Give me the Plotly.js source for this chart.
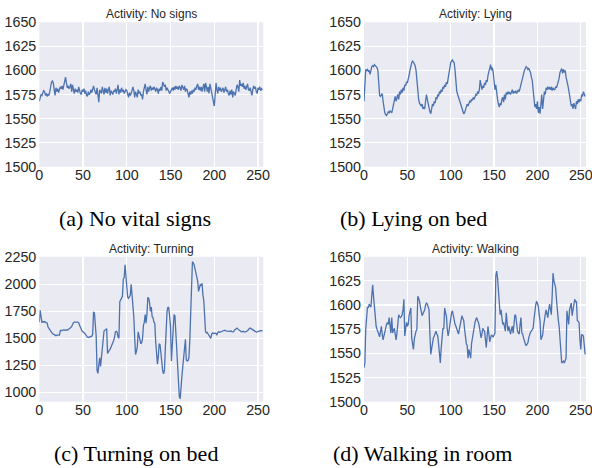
<!DOCTYPE html>
<html>
<head>
<meta charset="utf-8">
<script src="https://cdn.plot.ly/plotly-3.0.1.min.js"></script>
<style>html,body{margin:0;padding:0;background:#fff;}#chart{width:592px;height:468px;}</style>
</head>
<body>
<div id="chart"></div>
<script>
// Sample values (signal amplitude per sample index)
var noSigns = [
1568,1572,1575,1574,1577,1579,1578,1574,1576,1573,
1575,1574,1578,1584,1588,1589,1587,1580,1574,1582,
1578,1581,1577,1580,1583,1581,1584,1580,1586,1588,
1593,1587,1582,1584,1581,1583,1586,1578,1585,1580,
1576,1581,1578,1580,1577,1583,1579,1576,1575,1580,
1578,1581,1576,1579,1574,1573,1578,1575,1576,1580,
1577,1583,1584,1580,1577,1575,1582,1570,1567,1580,
1578,1576,1583,1578,1575,1582,1577,1581,1576,1580,
1583,1574,1579,1577,1575,1579,1578,1581,1576,1580,
1585,1575,1580,1577,1582,1578,1580,1576,1579,1580,
1579,1575,1572,1577,1574,1576,1580,1583,1579,1572,
1578,1575,1572,1580,1576,1578,1574,1575,1570,1578,
1582,1586,1580,1575,1583,1578,1582,1584,1579,1582,
1580,1583,1581,1578,1582,1580,1576,1581,1579,1583,
1579,1588,1586,1583,1585,1579,1582,1580,1578,1576,
1578,1580,1582,1579,1583,1580,1584,1581,1583,1580,
1584,1582,1579,1585,1582,1580,1584,1578,1581,1580,
1576,1572,1578,1575,1579,1576,1580,1578,1582,1580,
1584,1586,1580,1583,1579,1583,1578,1582,1586,1578,
1587,1583,1578,1583,1576,1586,1579,1577,1572,1568,
1563,1575,1587,1580,1576,1583,1579,1582,1578,1580,
1582,1577,1581,1583,1578,1580,1576,1574,1579,1575,
1580,1572,1578,1576,1574,1580,1585,1583,1578,1590,
1584,1586,1583,1587,1581,1584,1580,1583,1586,1580,
1579,1582,1577,1574,1580,1584,1581,1583,1578,1576,
1582,1580,1583,1579,1581,1580];

var lying = [
1568,1590,1601,1600,1601,1599,1600,1596,1602,1604,
1605,1604,1606,1605,1605,1603,1600,1585,1574,1573,
1575,1576,1568,1560,1556,1554,1553,1555,1557,1556,
1558,1557,1556,1560,1565,1570,1573,1568,1572,1575,
1570,1578,1575,1580,1577,1582,1579,1585,1584,1588,
1587,1590,1595,1600,1606,1608,1610,1609,1607,1605,
1600,1590,1578,1570,1566,1564,1563,1565,1560,1562,
1560,1568,1575,1570,1565,1560,1557,1555,1560,1565,
1563,1568,1566,1572,1570,1575,1573,1578,1576,1580,
1578,1583,1581,1585,1583,1588,1586,1592,1598,1605,
1608,1610,1611,1609,1608,1600,1588,1578,1575,1572,
1570,1568,1565,1560,1558,1555,1556,1560,1563,1565,
1563,1566,1568,1567,1570,1569,1572,1570,1573,1575,
1574,1578,1576,1580,1590,1582,1580,1584,1582,1587,
1585,1590,1588,1595,1600,1603,1606,1600,1603,1598,
1585,1580,1585,1575,1570,1565,1562,1566,1564,1570,
1572,1567,1575,1570,1577,1575,1578,1576,1577,1575,
1578,1580,1576,1578,1577,1579,1576,1578,1580,1578,
1582,1585,1588,1592,1596,1600,1602,1604,1603,1601,
1602,1600,1598,1593,1590,1580,1565,1562,1565,1560,
1568,1556,1562,1555,1565,1575,1560,1570,1578,1575,
1582,1580,1583,1581,1582,1580,1583,1579,1582,1580,
1580,1583,1582,1585,1588,1592,1598,1600,1602,1597,
1601,1598,1600,1593,1590,1585,1580,1575,1568,1563,
1565,1560,1566,1562,1560,1568,1565,1570,1567,1570,
1568,1575,1573,1578,1575,1573];

var turning = [
1650,1760,1700,1650,1655,1650,1655,1650,1652,1640,
1605,1590,1575,1565,1555,1545,1540,1535,1530,1525,
1530,1528,1525,1530,1570,1575,1570,1578,1580,1575,
1580,1578,1575,1580,1585,1590,1600,1610,1630,1645,
1650,1652,1655,1650,1650,1645,1620,1595,1575,1565,
1560,1555,1545,1535,1520,1510,1508,1510,1512,1515,
1520,1540,1740,1735,1620,1520,1200,1175,1250,1320,
1240,1330,1400,1540,1570,1575,1580,1590,1360,1380,
1390,1400,1420,1440,1450,1480,1510,1560,1565,1555,
1510,1500,1840,1860,1870,1890,2050,2060,2180,2050,
1900,1880,1870,1890,1900,2000,1900,1840,1700,1510,
1350,1380,1420,1560,1530,1500,1450,1460,1500,1620,
1650,1720,1640,1720,1880,1870,1830,1750,1790,1700,
1690,1650,1640,1470,1350,1260,1330,1450,1440,1350,
1280,1200,1170,1200,1400,1640,1750,1790,1780,1700,
1600,1290,1450,1550,1720,1710,1560,1390,1200,1050,
960,940,1080,1150,1240,1350,1400,1490,1300,1290,
1295,1320,1480,1700,2000,2210,2200,2180,2140,2100,
2090,2030,1935,1990,2000,1985,2010,1900,1850,1700,
1560,1550,1555,1540,1530,1520,1500,1540,1550,1545,
1550,1548,1545,1530,1555,1560,1555,1558,1565,1562,
1568,1570,1575,1570,1568,1566,1560,1565,1565,1570,
1562,1558,1560,1575,1585,1590,1595,1585,1578,1570,
1565,1560,1562,1565,1560,1558,1560,1565,1570,1580,
1590,1595,1590,1585,1580,1570,1565,1560,1558,1560,
1565,1570,1568,1570,1572,1570];

var walking = [
1535,1540,1575,1595,1598,1597,1601,1599,1598,1610,
1621,1609,1595,1580,1578,1575,1573,1570,1567,1572,
1578,1570,1564,1568,1573,1578,1580,1582,1580,1587,
1578,1571,1587,1571,1574,1576,1570,1564,1571,1580,
1590,1588,1587,1588,1590,1595,1606,1568,1575,1582,
1578,1580,1589,1592,1597,1566,1560,1554,1565,1571,
1573,1575,1609,1607,1604,1598,1594,1589,1591,1593,
1595,1600,1602,1601,1598,1595,1570,1549,1555,1564,
1566,1568,1570,1573,1570,1568,1560,1552,1540,1555,
1564,1576,1575,1597,1592,1589,1575,1568,1573,1580,
1589,1592,1594,1588,1585,1580,1578,1575,1572,1570,
1575,1580,1585,1589,1586,1584,1575,1566,1560,1558,
1545,1554,1550,1545,1560,1566,1573,1580,1582,1585,
1587,1584,1582,1578,1573,1566,1570,1576,1574,1573,
1565,1556,1568,1578,1570,1562,1566,1569,1568,1567,
1569,1571,1630,1635,1628,1618,1605,1590,1595,1588,
1580,1582,1578,1573,1592,1582,1573,1578,1574,1570,
1575,1578,1571,1580,1590,1589,1580,1573,1571,1570,
1580,1587,1571,1570,1566,1562,1560,1558,1560,1561,
1566,1571,1572,1573,1575,1576,1585,1594,1600,1604,
1601,1599,1590,1584,1564,1566,1569,1578,1587,1590,
1595,1590,1587,1595,1601,1596,1590,1610,1633,1625,
1622,1618,1605,1592,1585,1578,1565,1554,1540,1541,
1542,1540,1543,1545,1594,1585,1580,1595,1598,1602,
1589,1595,1604,1606,1603,1604,1584,1583,1582,1565,
1554,1569,1569,1568,1559,1549];

var titles = ["Activity: No signs", "Activity: Lying", "Activity: Turning", "Activity: Walking"];
var captions = ["(a) No vital signs", "(b) Lying on bed", "(c) Turning on bed", "(d) Walking in room"];
var yRanges = [[1500, 1650], [1500, 1650], [913, 2256], [1500, 1650]];
var yDticks = [25, 25, 250, 25];
var xTickVals = [0, 50, 100, 150, 200, 250];

var series = [noSigns, lying, turning, walking];
var W = 592, H = 468;
// plot boxes in pixels [left, right, top, bottom]
var boxes = [[39.3, 263.3, 22.3, 166.7], [364, 586, 22.3, 166.7],
             [39.3, 263.3, 256.7, 401.7], [364, 586, 256.7, 401.7]];
var xLabelShift = [0, -1.5, 0, -1.5];
var titleY = [13.5, 13.5, 248.5, 248.5];
var capPos = [[135, 218], [413, 218], [136, 453], [422, 453]];

var textColor = '#262626';
var tickFont = {size: 14.3, color: textColor, family: 'Liberation Sans, Arial, sans-serif'};
var traces = [], layout = {
  width: W, height: H, margin: {l: 0, r: 0, t: 0, b: 0},
  paper_bgcolor: '#ffffff', showlegend: false,
  font: {family: 'Liberation Sans, Arial, sans-serif', color: textColor},
  annotations: []
};

series.forEach(function (vals, k) {
  var n = k + 1, sfx = (n === 1 ? '' : String(n));
  var xs = vals.map(function (_, i) { return i; });
  traces.push({
    x: xs, y: vals, type: 'scatter', mode: 'lines',
    xaxis: 'x' + sfx, yaxis: 'y' + sfx,
    line: {color: '#4C72B0', width: 1.3}, hoverinfo: 'skip'
  });
  var b = boxes[k];
  layout['xaxis' + sfx] = {
    domain: [b[0] / W, b[1] / W], range: [0, 256], anchor: 'y' + sfx,
    tickvals: xTickVals, showgrid: true, gridcolor: '#ffffff', gridwidth: 1.2,
    zeroline: false, showline: false, ticks: '', ticklabeloverflow: 'allow',
    ticklabelstandoff: -2, ticklabelshift: xLabelShift[k], tickfont: tickFont
  };
  layout['yaxis' + sfx] = {
    domain: [1 - b[3] / H, 1 - b[2] / H], range: yRanges[k], anchor: 'x' + sfx,
    dtick: yDticks[k], tick0: 0, showgrid: true, gridcolor: '#ffffff', gridwidth: 1.2,
    zeroline: false, showline: false, ticks: '', ticklabeloverflow: 'allow',
    ticklabelstandoff: 2, tickfont: tickFont
  };
  layout.annotations.push({
    text: titles[k], xref: 'paper', yref: 'paper',
    x: (b[0] + b[1]) / 2 / W, y: 1 - titleY[k] / H, xanchor: 'center', yanchor: 'middle',
    showarrow: false, font: {size: 12, color: textColor, family: 'Liberation Sans, Arial, sans-serif'}
  });
  layout.annotations.push({
    text: captions[k], xref: 'paper', yref: 'paper',
    x: capPos[k][0] / W, y: 1 - capPos[k][1] / H, xanchor: 'center', yanchor: 'middle',
    showarrow: false, font: {size: 22, color: '#000000', family: 'Liberation Serif, Times New Roman, serif'}
  });
});

// plot backgrounds
layout.shapes = boxes.map(function (b, k) {
  var sfx = (k === 0 ? '' : String(k + 1));
  return {type: 'rect', xref: 'x' + sfx + ' domain', yref: 'y' + sfx + ' domain',
    x0: 0, x1: 1, y0: 0, y1: 1, fillcolor: '#EAEAF2', line: {width: 0}, layer: 'below'};
});

Plotly.newPlot('chart', traces, layout, {staticPlot: true, displayModeBar: false});
</script>
</body>
</html>
